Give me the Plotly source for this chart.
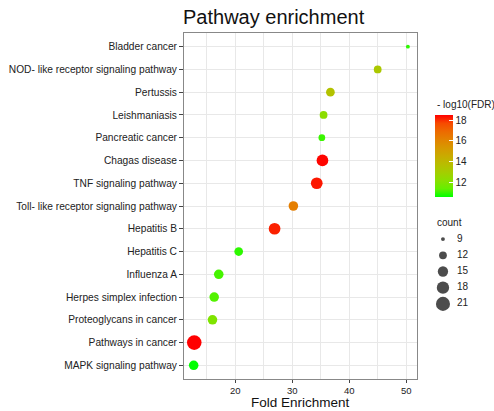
import plotly.graph_objects as go

pathways = ["Bladder cancer", "NOD- like receptor signaling pathway", "Pertussis",
            "Leishmaniasis", "Pancreatic cancer", "Chagas disease", "TNF signaling pathway",
            "Toll- like receptor signaling pathway", "Hepatitis B", "Hepatitis C",
            "Influenza A", "Herpes simplex infection", "Proteoglycans in cancer",
            "Pathways in cancer", "MAPK signaling pathway"]
fold_enrichment = [50.3, 45.0, 36.7, 35.5, 35.2, 35.3, 34.3, 30.2, 26.9, 20.6, 17.1, 16.3, 16.0, 12.8, 12.7]
neg_log10_fdr = [11.0, 13.3, 13.6, 12.3, 11.1, 18.5, 18.3, 16.3, 18.2, 11.0, 11.2, 11.3, 12.0, 18.55, 10.65]
counts = [9, 12, 13, 12, 11, 17, 17, 14, 17, 13, 14, 14, 14, 22, 14]
size_breaks = [9, 12, 15, 18, 21]
color_ticks = [12, 14, 16, 18]

# ---- style helpers ----
def srgb_to_lab(c):
    def lin(v):
        v = v / 255
        return v / 12.92 if v <= 0.04045 else ((v + 0.055) / 1.055) ** 2.4
    r, g, b = (lin(v) for v in c)
    x = (0.4124 * r + 0.3576 * g + 0.1805 * b) / 0.95047
    y = (0.2126 * r + 0.7152 * g + 0.0722 * b)
    z = (0.0193 * r + 0.1192 * g + 0.9505 * b) / 1.08883
    def f(t):
        return t ** (1 / 3) if t > 0.008856 else 7.787 * t + 16 / 116
    fx, fy, fz = f(x), f(y), f(z)
    return (116 * fy - 16, 500 * (fx - fy), 200 * (fy - fz))

def lab_to_srgb(lab):
    L, a, b = lab
    fy = (L + 16) / 116
    fx = fy + a / 500
    fz = fy - b / 200
    def finv(t):
        return t ** 3 if t ** 3 > 0.008856 else (t - 16 / 116) / 7.787
    x, y, z = finv(fx) * 0.95047, finv(fy), finv(fz) * 1.08883
    r = 3.2406 * x - 1.5372 * y - 0.4986 * z
    g = -0.9689 * x + 1.8758 * y + 0.0415 * z
    bb = 0.0557 * x - 0.2040 * y + 1.0570 * z
    def gam(v):
        v = 12.92 * v if v <= 0.0031308 else 1.055 * v ** (1 / 2.4) - 0.055
        return max(0, min(255, round(v * 255)))
    return "rgb(%d,%d,%d)" % (gam(r), gam(g), gam(bb))

lo, hi = srgb_to_lab((0, 255, 0)), srgb_to_lab((255, 0, 0))
colorscale = []
for i in range(11):
    t = i / 10
    colorscale.append([t, lab_to_srgb(tuple(lo[k] + (hi[k] - lo[k]) * t for k in range(3)))])

def diam(c):
    return 3.9 * max(c - 8, 0.05) ** 0.5

# ---- layout geometry ----
W, H = 494, 411
ML, MR, MT, MB = 184, 10, 33, 32
PW = W - ML - MR
PH = H - MT - MB
def px_x(x):
    return (x - ML) / PW
def px_y(y):
    return (H - MB - y) / PH

FONT = "Liberation Sans, Arial, sans-serif"

fig = go.Figure()
fig.add_trace(go.Scatter(
    x=fold_enrichment, y=pathways, mode="markers",
    marker=dict(size=[diam(c) for c in counts], color=neg_log10_fdr,
                colorscale=colorscale, cmin=10.65, cmax=18.55, opacity=1,
                line=dict(width=0),
                colorbar=dict(
                    x=px_x(435), xanchor="left", y=px_y(155.5), yanchor="middle",
                    lenmode="pixels", len=82.4, thickness=18, thicknessmode="pixels",
                    outlinewidth=0, xpad=0, ypad=0,
                    tickvals=color_ticks, ticks="inside", ticklen=4, tickcolor="white",
                    tickfont=dict(size=10, color="#222", family=FONT))),
    showlegend=False, hoverinfo="x+y",
    xaxis="x", yaxis="y"))

# size legend
fig.add_trace(go.Scatter(
    x=[0.24] * len(size_breaks), y=[str(s) for s in size_breaks], mode="markers",
    marker=dict(size=[diam(s) for s in size_breaks], color="black", line=dict(width=0)),
    xaxis="x2", yaxis="y2", showlegend=False, hoverinfo="skip"))
fig.add_trace(go.Scatter(
    x=[0.5] * len(size_breaks), y=[str(s) for s in size_breaks], mode="text",
    text=[str(s) for s in size_breaks], textposition="middle right",
    textfont=dict(size=10, color="#222", family=FONT),
    xaxis="x2", yaxis="y2", showlegend=False, hoverinfo="skip"))

grid = "#E8E8E8"
fig.update_layout(
    width=W, height=H, margin=dict(l=ML, r=MR, t=MT, b=MB, autoexpand=False),
    paper_bgcolor="white", plot_bgcolor="white",
    font=dict(family=FONT, color="#222"),
    title=dict(text="Pathway enrichment", x=183 / W, xanchor="left", xref="container",
               y=1 - 17 / H, yanchor="middle", yref="container",
               font=dict(size=20, color="#111", family=FONT)),
    xaxis=dict(domain=[0, (417 - ML) / PW], range=[11.0, 51.9], tick0=0, dtick=10,
               automargin=False,
               showgrid=True, gridcolor=grid, gridwidth=1, zeroline=False,
               minor=dict(dtick=5, tick0=0, showgrid=True, gridcolor=grid, gridwidth=1, ticks=""),
               showline=True, linecolor="#888", linewidth=1, mirror=True,
               ticks="outside", ticklen=3, tickcolor="#444",
               tickfont=dict(size=9.5, color="#222")),
    yaxis=dict(type="category", categoryorder="array", categoryarray=pathways[::-1],
               automargin=False,
               range=[-0.6, 14.6], showgrid=True, gridcolor=grid, gridwidth=1,
               showline=True, linecolor="#888", linewidth=1, mirror=True,
               ticks="outside", ticklen=4, tickcolor="#444",
               tickfont=dict(size=10.2, color="#222")),
    xaxis2=dict(domain=[px_x(430), 1], range=[0, 1], visible=False, anchor="y2"),
    yaxis2=dict(domain=[px_y(312), px_y(231)], type="category", categoryorder="array",
                categoryarray=[str(s) for s in size_breaks[::-1]], range=[-0.5, 4.5],
                visible=False, anchor="x2"),
    annotations=[
        dict(text="Fold Enrichment", x=px_x(300.5), y=px_y(402.5), xref="paper", yref="paper",
             xanchor="center", yanchor="middle", showarrow=False,
             font=dict(size=13.5, color="#111", family=FONT)),
        dict(text="count", x=px_x(435), y=px_y(222), xref="paper", yref="paper",
             xanchor="left", yanchor="middle", showarrow=False,
             font=dict(size=10, color="#222", family=FONT)),
        dict(text="- log10(FDR)", x=px_x(435), y=px_y(104), xref="paper", yref="paper",
             xanchor="left", yanchor="middle", showarrow=False,
             font=dict(size=10, color="#222", family=FONT)),
    ],
)

fig.write_html("out.html")
